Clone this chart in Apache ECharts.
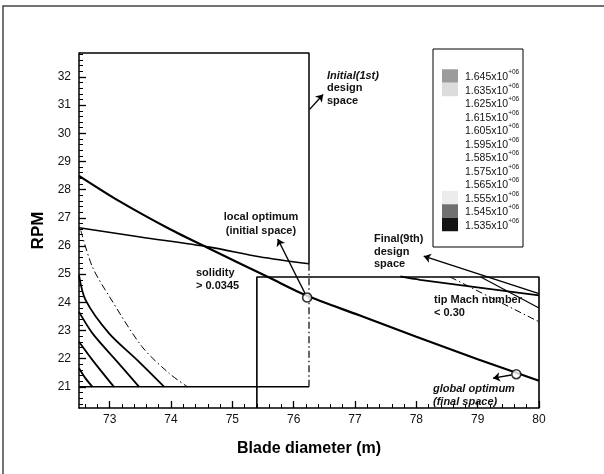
<!DOCTYPE html>
<html>
<head>
<meta charset="utf-8">
<script src="https://cdn.jsdelivr.net/npm/echarts@6/dist/echarts.min.js"></script>
<style>
  html, body { margin: 0; padding: 0; background: #fff; }
  #chart { width: 604px; height: 474px; }
</style>
</head>
<body>
<div id="chart"></div>
<script>
// axis ranges and tick labels
const xRange = [72.5, 80];
const yRange = [20.25, 32.85];
const xTicks = [73, 74, 75, 76, 77, 78, 79, 80];
const yTicks = [21, 22, 23, 24, 25, 26, 27, 28, 29, 30, 31, 32];

// contour levels shown in the legend box
const levels = ['1.645', '1.635', '1.625', '1.615', '1.605', '1.595',
  '1.585', '1.575', '1.565', '1.555', '1.545', '1.535'];
const levelShade = ['#9c9c9c', '#dcdcdc', null, null, null, null,
  null, null, null, '#ececec', '#707070', '#141414'];

// constraint curves
const mainCurve = [[72.5, 28.49], [73.15, 27.6], [73.97, 26.61], [74.63, 25.9], [75.6, 24.88],
  [76.2, 24.25], [77.07, 23.54], [78.0, 22.78], [79.0, 21.98], [79.63, 21.5], [80, 21.22]];
const solidityCurve = [[72.5, 26.65], [73.5, 26.32], [74.63, 25.96], [75.44, 25.62], [76.25, 25.37]];

// objective contours, lower left
const contour1 = [[72.5, 21.66], [72.6, 21.32], [72.72, 21.0]];
const contour2 = [[72.5, 22.6], [72.72, 21.95], [73.07, 21.0]];
const contour3 = [[72.5, 23.66], [72.72, 22.9], [73.1, 21.95], [73.48, 21.0]];
const contour4 = [[72.5, 24.96], [72.61, 24.07], [72.99, 22.9], [73.45, 21.95], [73.89, 21.0]];
const contourDash = [[72.53, 26.55], [72.72, 25.25], [73.0, 24.19], [73.53, 22.42], [73.97, 21.48], [74.27, 21.0]];

// curves near the final design space
const machCurve = [[77.74, 24.92], [78.06, 24.8], [80, 24.25]];
const contourRight = [[79.05, 24.9], [80, 23.8]];
const contourRightDash = [[78.55, 24.9], [80, 23.31]];

// design spaces
const initialTop = [[72.5, 32.85], [76.25, 32.85], [76.25, 25.37]];
const initialSideDash = [[76.25, 25.37], [76.25, 21]];
const initialBottom = [[72.5, 21], [76.25, 21]];
const finalBox = [[75.4, 20.25], [75.4, 24.9], [80, 24.9], [80, 20.25]];

// optima
const optima = [[76.22, 24.17], [79.63, 21.45]];

// annotation arrows [from, to]
const arrows = [
  [[76.26, 30.85], [76.48, 31.38]],
  [[76.2, 24.25], [75.74, 26.25]],
  [[80, 24.31], [78.12, 25.64]],
  [[79.55, 21.42], [79.25, 21.31]]
];

const minorX = [];
for (let v = 72.6; v < 80; v += 0.2) minorX.push(+v.toFixed(1));
const minorY = [];
for (let v = 20.4; v < 32.85; v += 0.2) minorY.push(+v.toFixed(1));

const FONT = 'Liberation Sans';
const chart = echarts.init(document.getElementById('chart'));

function curve(data, width, dash, smooth) {
  return {
    type: 'line', data: data, showSymbol: false, clip: false, silent: true,
    smooth: smooth ? 0.3 : false,
    lineStyle: { color: '#000', width: width, type: dash || 'solid' }
  };
}
const dashDot = [7, 3, 1.5, 3];

const legendItems = [];
levels.forEach((lv, i) => {
  const y = 76 + i * 13.5;
  if (levelShade[i]) {
    legendItems.push({
      type: 'rect', z: 11, shape: { x: 442, y: y - 6.75, width: 16, height: 13.5 },
      style: { fill: levelShade[i] }
    });
  }
  legendItems.push({
    type: 'text', z: 11, x: 465, y: y - 7,
    style: {
      text: '{b|' + lv + 'x10}{s|+06}',
      rich: {
        b: { fontFamily: FONT, fontSize: 10.5, fill: '#111', lineHeight: 14, verticalAlign: 'bottom' },
        s: { fontFamily: FONT, fontSize: 6.5, fill: '#111', lineHeight: 9, verticalAlign: 'top' }
      }
    }
  });
});

function note(x, y, text, opts) {
  return {
    type: 'text', x: x, y: y, z: 11,
    style: Object.assign({
      text: text, fontFamily: FONT, fontSize: 11, fontWeight: 'bold',
      fill: '#111', lineHeight: 12.5
    }, opts || {})
  };
}

chart.setOption({
  animation: false,
  backgroundColor: '#fff',
  grid: { left: 79, right: 65, top: 53, bottom: 66 },
  xAxis: [{
    type: 'value', min: xRange[0], max: xRange[1],
    name: 'Blade diameter (m)', nameLocation: 'middle', nameGap: 33,
    nameTextStyle: { fontFamily: FONT, fontSize: 16, fontWeight: 'bold', color: '#000' },
    axisLine: { lineStyle: { color: '#000', width: 1.5 } },
    axisTick: { inside: true, length: 7, customValues: xTicks, lineStyle: { color: '#000', width: 1.3 } },
    axisLabel: { customValues: xTicks, fontFamily: FONT, fontSize: 12, color: '#111', margin: 6 },
    splitLine: { show: false }
  }, {
    type: 'value', min: xRange[0], max: xRange[1], position: 'bottom',
    axisLine: { show: false },
    axisTick: { inside: true, length: 4, customValues: minorX, lineStyle: { color: '#000', width: 1 } },
    axisLabel: { show: false }, splitLine: { show: false }
  }],
  yAxis: [{
    type: 'value', min: yRange[0], max: yRange[1],
    name: 'RPM', nameLocation: 'middle', nameGap: 32, nameRotate: 90, nameMoveOverlap: false,
    nameTextStyle: { fontFamily: FONT, fontSize: 17, fontWeight: 'bold', color: '#000' },
    axisLine: { lineStyle: { color: '#000', width: 1.5 } },
    axisTick: { inside: true, length: 7, customValues: yTicks, lineStyle: { color: '#000', width: 1.3 } },
    axisLabel: { customValues: yTicks, fontFamily: FONT, fontSize: 12, color: '#111', margin: 8 },
    splitLine: { show: false }
  }, {
    type: 'value', min: yRange[0], max: yRange[1], position: 'left',
    axisLine: { show: false },
    axisTick: { inside: true, length: 4, customValues: minorY, lineStyle: { color: '#000', width: 1 } },
    axisLabel: { show: false }, splitLine: { show: false }
  }],
  series: [
    curve(initialTop, 1.5),
    curve(initialSideDash, 1.2, dashDot),
    curve(initialBottom, 1.5),
    curve(finalBox, 1.6),
    curve(mainCurve, 2.2, null, true),
    curve(solidityCurve, 1.6, null, true),
    curve(contour1, 1.8, null, true),
    curve(contour2, 1.8, null, true),
    curve(contour3, 1.8, null, true),
    curve(contour4, 1.8, null, true),
    curve(contourDash, 1, dashDot, true),
    curve(machCurve, 1.8, null, true),
    curve(contourRight, 1.2),
    curve(contourRightDash, 1, dashDot),
    {
      type: 'lines', coordinateSystem: 'cartesian2d', silent: true,
      symbol: ['none', 'arrow'], symbolSize: 7,
      lineStyle: { color: '#000', width: 1.4, opacity: 1 },
      data: arrows.map(a => ({ coords: a }))
    },
    {
      type: 'scatter', data: optima, symbol: 'circle', symbolSize: 9, silent: true,
      itemStyle: { color: '#fff', borderColor: '#000', borderWidth: 1.6 }, z: 5
    }
  ],
  graphic: [
    { type: 'polyline', shape: { points: [[3, 474], [3, 6], [604, 6]] },
      style: { stroke: '#444', lineWidth: 1.5, fill: null } },
    { type: 'rect', z: 10, shape: { x: 433, y: 49, width: 90, height: 198 },
      style: { fill: '#fff', stroke: '#000', lineWidth: 1 } }
  ].concat(legendItems, [
    note(327, 70, 'Initial(1st)', { fontStyle: 'italic' }),
    note(327, 82, 'design\nspace'),
    note(261, 210, 'local optimum\n(initial space)', { align: 'center', lineHeight: 14 }),
    note(196, 266, 'solidity\n> 0.0345', { lineHeight: 13 }),
    note(374, 233, 'Final(9th)\ndesign\nspace'),
    note(434, 294, 'tip Mach number\n< 0.30'),
    note(433, 382, 'global optimum\n(final space)', { fontStyle: 'italic', lineHeight: 13 })
  ])
});
</script>
</body>
</html>
